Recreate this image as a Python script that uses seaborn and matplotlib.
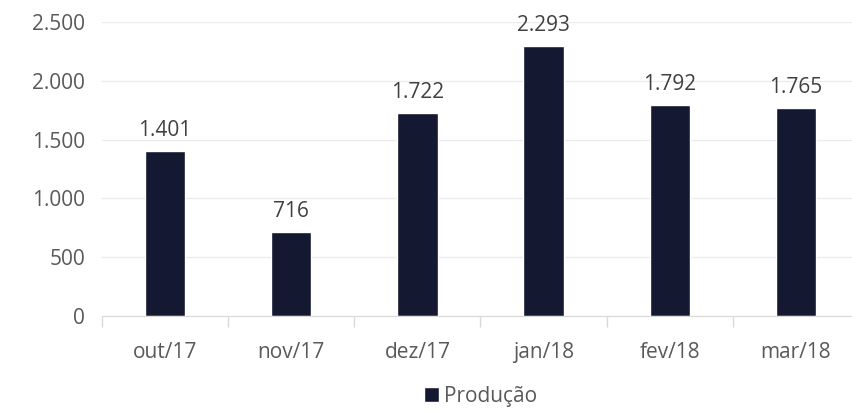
import numpy as np
import pandas as pd
import matplotlib
matplotlib.use('Agg')
import matplotlib.pyplot as plt
import seaborn as sns
from matplotlib.ticker import FuncFormatter, FixedLocator

meses = ['out/17', 'nov/17', 'dez/17', 'jan/18', 'fev/18', 'mar/18']
producao = [1401, 716, 1722, 2293, 1792, 1765]
yticks = [0, 500, 1000, 1500, 2000, 2500]

def fmt_br(v):
    return f'{int(v):,}'.replace(',', '.')

sns.set_style('white')
plt.rcParams['font.family'] = ['Open Sans', 'DejaVu Sans']

df = pd.DataFrame({'Mês': meses, 'Produção': producao})

fig = plt.figure(figsize=(8.52, 4.12), dpi=100)
ax = fig.add_axes([0.1197, 0.233, 0.8885, 0.7136])

cor = '#141830'
sns.barplot(data=df, x='Mês', y='Produção', color=cor, width=0.32,
            saturation=1, ax=ax, label='Produção')

ax.set_ylim(0, 2500)
ax.set_yticks(yticks)
ax.yaxis.set_major_formatter(FuncFormatter(lambda v, p: fmt_br(v)))
ax.set_xlim(-0.5, len(meses) - 0.5)
ax.grid(axis='y', color='#ececec', linewidth=1)
ax.set_axisbelow(True)

for s in ['top', 'right', 'left']:
    ax.spines[s].set_visible(False)
ax.spines['bottom'].set_color('#d9d9d9')
ax.spines['bottom'].set_clip_on(False)

ax.tick_params(axis='y', length=0, labelsize=15, labelcolor='#595959', pad=12)
ax.tick_params(axis='x', which='major', length=0, labelsize=15,
               labelcolor='#595959', pad=19)
ax.xaxis.set_minor_locator(FixedLocator(np.arange(-0.5, len(meses), 1)))
ax.tick_params(axis='x', which='minor', bottom=True, length=8,
               color='#d9d9d9', width=1)
ax.set_xlabel('')
ax.set_ylabel('')

for i, v in enumerate(producao):
    ax.text(i, v + 85, fmt_br(v), ha='center', va='bottom',
            fontsize=15, color='#404040')

leg = ax.legend(loc='lower center', bbox_to_anchor=(0.5, -0.345), frameon=False,
                fontsize=15, handlelength=0.75, handleheight=0.75,
                handletextpad=0.25, borderpad=0)
for t in leg.get_texts():
    t.set_color('#595959')

fig.savefig('out.png', dpi=100)
